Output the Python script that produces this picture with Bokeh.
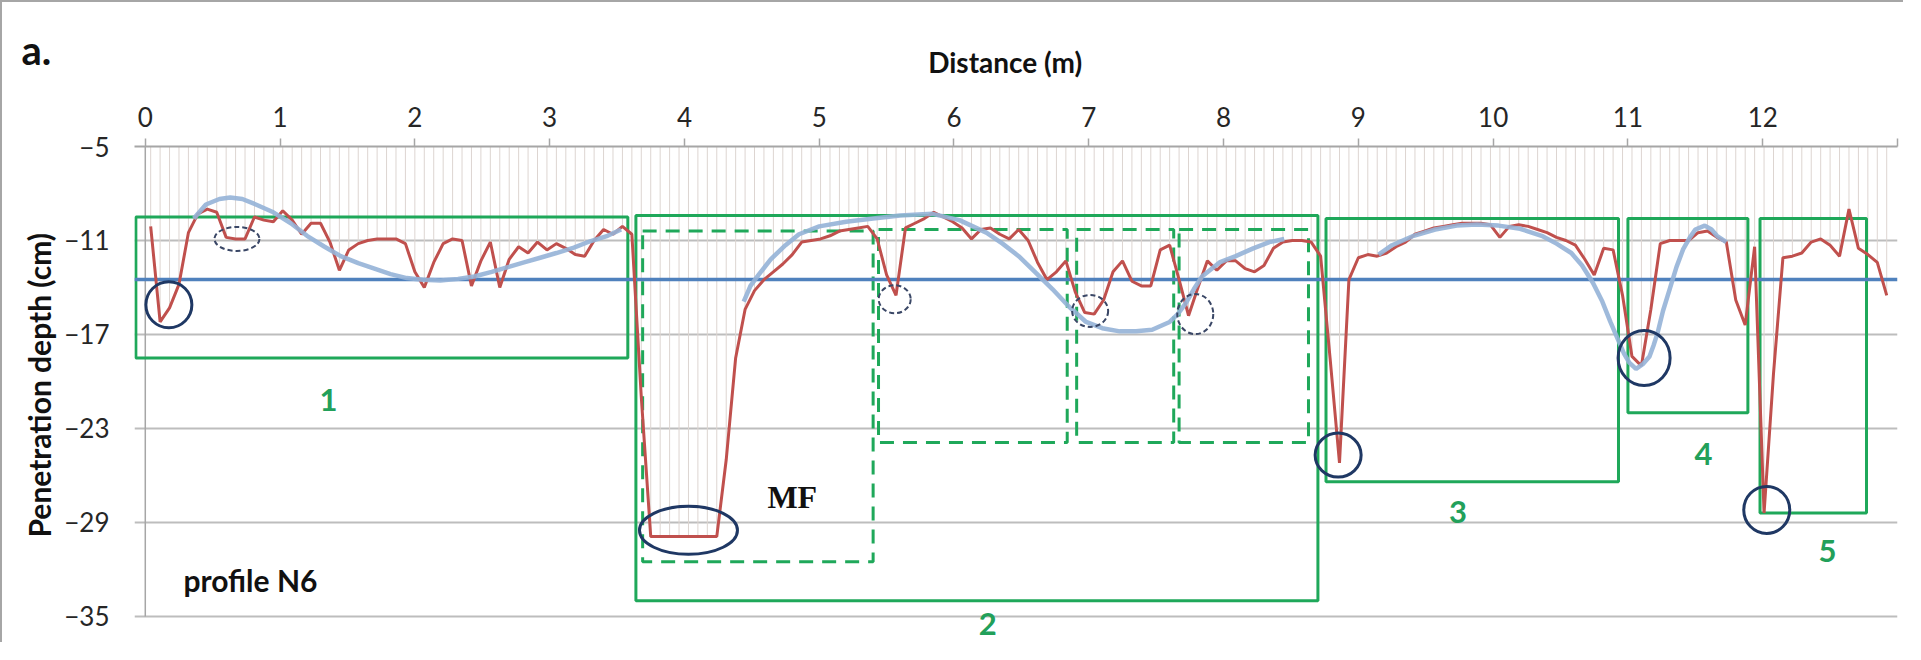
from bokeh.plotting import figure
from bokeh.models import Range1d, FixedTicker, Label, Title, ColumnDataSource
from bokeh.embed import file_html
from bokeh.resources import INLINE

# ---------------- data ----------------
distance = [
    0.04, 0.11, 0.18, 0.25, 0.32, 0.39, 0.46, 0.53, 0.60, 0.67,
    0.74, 0.81, 0.88, 0.95, 1.02, 1.09, 1.16, 1.23, 1.30, 1.37,
    1.44, 1.51, 1.58, 1.65, 1.72, 1.79, 1.86, 1.93, 2.00, 2.07,
    2.14, 2.21, 2.28, 2.35, 2.42, 2.49, 2.56, 2.63, 2.70, 2.77,
    2.84, 2.91, 2.98, 3.05, 3.12, 3.19, 3.26, 3.33, 3.40, 3.47,
    3.54, 3.61, 3.68, 3.75, 3.82, 3.89, 3.96, 4.03, 4.10, 4.17,
    4.24, 4.31, 4.38, 4.45, 4.52, 4.59, 4.66, 4.73, 4.80, 4.87,
    4.94, 5.01, 5.08, 5.15, 5.22, 5.29, 5.36, 5.43, 5.50, 5.57,
    5.64, 5.71, 5.78, 5.85, 5.92, 5.99, 6.06, 6.13, 6.20, 6.27,
    6.34, 6.41, 6.48, 6.55, 6.62, 6.69, 6.76, 6.83, 6.90, 6.97,
    7.04, 7.11, 7.18, 7.25, 7.32, 7.39, 7.46, 7.53, 7.60, 7.67,
    7.74, 7.81, 7.88, 7.95, 8.02, 8.09, 8.16, 8.23, 8.30, 8.37,
    8.44, 8.51, 8.58, 8.65, 8.72, 8.79, 8.86, 8.93, 9.00, 9.07,
    9.14, 9.21, 9.28, 9.35, 9.42, 9.49, 9.56, 9.63, 9.70, 9.77,
    9.84, 9.91, 9.98, 10.05, 10.12, 10.19, 10.26, 10.33, 10.40, 10.47,
    10.54, 10.61, 10.68, 10.75, 10.82, 10.89, 10.96, 11.03, 11.10, 11.17,
    11.24, 11.31, 11.38, 11.45, 11.52, 11.59, 11.66, 11.73, 11.80, 11.87,
    11.94, 12.01, 12.08, 12.15, 12.22, 12.29, 12.36, 12.43, 12.50, 12.57,
    12.64, 12.71, 12.78, 12.85, 12.92,
]
depth = [
    -10.1, -16.2, -15.3, -13.8, -10.5, -9.3, -9.0, -9.2, -10.8, -10.9,
    -10.9, -9.5, -9.7, -9.8, -9.1, -9.7, -10.6, -9.9, -9.9, -11.1,
    -12.9, -11.6, -11.2, -11.0, -10.9, -10.9, -10.9, -11.2, -13.0, -14.0,
    -12.4, -11.2, -10.9, -11.0, -13.9, -12.3, -11.1, -14.0, -12.2, -11.4,
    -11.8, -11.1, -11.6, -11.2, -11.5, -11.9, -12.0, -11.0, -10.3, -10.6,
    -10.1, -10.6, -21.0, -29.9, -29.9, -29.9, -29.9, -29.9, -29.9, -29.9,
    -29.9, -25.0, -18.5, -15.4, -14.2, -13.5, -13.0, -12.5, -11.9, -11.1,
    -11.0, -10.9, -10.7, -10.4, -10.3, -10.2, -10.1, -10.9, -13.2, -14.5,
    -10.2, -9.9, -9.6, -9.2, -9.5, -9.8, -10.2, -10.9, -10.3, -10.2,
    -10.6, -10.9, -10.3, -11.0, -12.4, -13.5, -13.0, -12.3, -14.3, -15.6,
    -15.7, -14.8, -13.0, -12.3, -13.6, -13.9, -13.9, -11.6, -11.3, -13.5,
    -15.8, -14.0, -12.3, -12.9, -12.3, -12.3, -12.8, -13.0, -12.6, -11.5,
    -11.1, -11.0, -11.0, -11.1, -12.0, -18.5, -25.2, -13.5, -12.1, -11.9,
    -12.0, -11.8, -11.4, -11.1, -10.6, -10.4, -10.2, -10.1, -10.0, -9.9,
    -9.9, -9.9, -10.0, -10.8, -10.1, -10.0, -10.1, -10.3, -10.5, -10.8,
    -11.0, -11.3, -12.2, -13.2, -11.5, -11.6, -14.5, -18.4, -19.0, -15.4,
    -11.2, -11.0, -11.0, -11.0, -10.5, -10.4, -10.8, -11.1, -14.8, -16.4,
    -11.4, -28.4, -19.5, -12.1, -12.0, -11.8, -11.1, -10.9, -11.3, -12.0,
    -9.0, -11.5, -11.9, -12.4, -14.5,
]

# smoothed trend curves (light blue)
trend1_x = [0.36, 0.45, 0.55, 0.63, 0.72, 0.82, 0.95, 1.08, 1.20, 1.33, 1.45, 1.58, 1.70, 1.82,
            1.94, 2.06, 2.19, 2.32, 2.44, 2.57, 2.69, 2.81, 2.93, 3.05, 3.18, 3.30, 3.43, 3.53]
trend1_y = [-9.6, -8.7, -8.35, -8.26, -8.35, -8.7, -9.2, -9.9, -10.7, -11.4, -12.0, -12.45, -12.8, -13.15,
            -13.4, -13.5, -13.55, -13.45, -13.3, -13.0, -12.7, -12.4, -12.1, -11.8, -11.45, -11.05, -10.7, -10.3]
trend2_x = [4.44, 4.49, 4.55, 4.64, 4.75, 4.85, 5.00, 5.20, 5.40, 5.60, 5.84, 6.04, 6.24, 6.36, 6.48, 6.60,
            6.73, 6.85, 6.98, 7.10, 7.23, 7.35, 7.47, 7.60, 7.66, 7.72, 7.78, 7.84, 7.97, 8.09, 8.22, 8.34, 8.45]
trend2_y = [-14.9, -13.9, -13.2, -12.2, -11.3, -10.6, -10.1, -9.8, -9.6, -9.4, -9.3, -9.7, -10.5, -11.2, -12.0, -13.0,
            -14.1, -15.2, -16.2, -16.6, -16.8, -16.8, -16.7, -16.2, -15.7, -15.0, -14.1, -13.3, -12.4, -12.0, -11.5, -11.1, -10.9]
trend3_x = [9.15, 9.25, 9.41, 9.57, 9.73, 9.88, 10.04, 10.20, 10.36, 10.47, 10.58, 10.66, 10.74, 10.81, 10.87, 10.92,
            10.97, 11.01, 11.06, 11.11, 11.16, 11.19, 11.22, 11.26, 11.31, 11.36, 11.41, 11.46, 11.50, 11.57, 11.62, 11.66, 11.73]
trend3_y = [-11.9, -11.3, -10.7, -10.3, -10.05, -9.98, -10.05, -10.25, -10.7, -11.2, -11.8, -12.6, -13.7, -14.9, -16.2, -17.2,
            -18.2, -18.8, -19.2, -18.9, -18.4, -17.7, -16.9, -15.5, -14.1, -12.7, -11.55, -10.8, -10.3, -10.05, -10.3, -10.7, -11.1]

reference_depth = -13.5  # horizontal blue line

# zones (solid green rectangles)
zone_left = [-0.07, 3.64, 8.76, 11.00, 11.98]
zone_right = [3.58, 8.70, 10.93, 11.89, 12.77]
zone_top = [-9.5, -9.4, -9.6, -9.6, -9.6]
zone_bottom = [-18.5, -34.0, -26.4, -22.0, -28.4]
zone_names = ["1", "2", "3", "4", "5"]
zone_name_x = [1.36, 6.25, 9.74, 11.56, 12.48]
zone_name_y = [-21.2, -35.5, -28.3, -24.6, -30.8]

# sub-zones (dashed green rectangles)
sub_left = [3.69, 5.44, 6.91, 7.67]
sub_right = [5.40, 6.84, 7.63, 8.63]
sub_top = [-10.4, -10.3, -10.3, -10.3]
sub_bottom = [-31.5, -23.9, -23.9, -23.9]

# marked points (solid rings) and minor marks (dashed rings)
ring_x = [0.175, 4.03, 8.85, 11.12, 12.03]
ring_y = [-15.1, -29.5, -24.7, -18.5, -28.2]
minor_x = [0.68, 5.56, 7.01, 7.79]
minor_y = [-10.9, -14.75, -15.5, -15.7]

x_ticks = [0, 1, 2, 3, 4, 5, 6, 7, 8, 9, 10, 11, 12, 13]
y_ticks = [-5, -11, -17, -23, -29, -35]
x_start, x_end = -0.08, 13.0
y_top, y_bottom = -5, -35
y_view_bottom = -36.79   # a little room below the last gridline for the "2" label

# ---------------- styles ----------------
ring_w_px = [46, 98, 46, 52, 46]
ring_h_px = [46, 48, 44, 55, 47]
minor_w_px = [45, 32, 36, 36]
minor_h_px = [24, 28, 32, 40]

GREEN = "#1fa85a"
RED = "#c0504d"
LIGHT_BLUE = "#95b3d7"
MID_BLUE = "#4f81bd"
NAVY = "#1f3864"
GRAY = "#a6a6a6"
FONT = "Lato"

p = figure(width=1903, height=642,
           x_range=Range1d(x_start, x_end), y_range=Range1d(y_view_bottom, y_top),
           x_axis_location="above", output_backend="svg", toolbar_location=None,
           min_border_left=132, min_border_right=8, min_border_top=144, min_border_bottom=0)
p.styles = {"border-top": "2px solid #a6a6a6", "border-left": "2px solid #a6a6a6"}
p.outline_line_color = None
p.background_fill_color = "white"
p.border_fill_color = "white"

# drop lines from the top axis to each reading
p.segment(x0=distance, y0=[y_top] * len(distance), x1=distance, y1=depth,
          line_color="#ddd5d1", line_width=1)
# vertical axis line at x = 0 (from the top to the last gridline)
p.segment(x0=[0], y0=[y_top], x1=[0], y1=[y_bottom], line_color=GRAY, line_width=1.5)

# zone rectangles
p.quad(left=zone_left, right=zone_right, top=zone_top, bottom=zone_bottom,
       fill_color=None, line_color=GREEN, line_width=3)
p.quad(left=sub_left, right=sub_right, top=sub_top, bottom=sub_bottom,
       fill_color=None, line_color=GREEN, line_width=3, line_dash="14 9")

# reference horizontal line
p.hspan(y=[reference_depth], line_color=MID_BLUE, line_width=3.5)

# profile and trends
p.line(distance, depth, line_color=RED, line_width=3)
p.multi_line(xs=[trend1_x, trend2_x, trend3_x], ys=[trend1_y, trend2_y, trend3_y],
             line_color=LIGHT_BLUE, line_width=4.5, line_alpha=0.9)

# rings
rs = ColumnDataSource(dict(x=ring_x, y=ring_y, w=ring_w_px, h=ring_h_px))
p.ellipse(x="x", y="y", width="w", height="h", width_units="screen", height_units="screen",
          source=rs, fill_color=None, line_color=NAVY, line_width=3)
ms = ColumnDataSource(dict(x=minor_x, y=minor_y, w=minor_w_px, h=minor_h_px))
p.ellipse(x="x", y="y", width="w", height="h", width_units="screen", height_units="screen",
          source=ms, fill_color=None, line_color="#3a4766", line_width=2, line_dash="5 3")

# axes
p.xaxis.ticker = FixedTicker(ticks=x_ticks)
p.xaxis.major_label_overrides = {13: ""}
p.xaxis.axis_line_color = GRAY
p.xaxis.axis_line_width = 2
p.xaxis.major_tick_line_color = GRAY
p.xaxis.major_tick_line_width = 1.5
p.xaxis.major_tick_out = 8
p.xaxis.major_tick_in = 0
p.xaxis.minor_tick_line_color = None
p.xaxis.major_label_standoff = 12

p.yaxis.ticker = FixedTicker(ticks=y_ticks)
p.yaxis.axis_line_color = None
p.yaxis.major_tick_line_color = None
p.yaxis.minor_tick_line_color = None
p.yaxis.major_label_standoff = 19

for ax in (p.xaxis, p.yaxis):
    ax.major_label_text_font = FONT
    ax.major_label_text_font_size = "26px"
    ax.major_label_text_color = "#262626"

p.xgrid.visible = False
p.ygrid.grid_line_color = "#bdbdbd"
p.ygrid.grid_line_width = 2

# titles placed in the side panels (so they are not clipped by the plot frame)
p.add_layout(Label(x=6.38, y=0.42, text="Distance (m)", text_align="center", text_baseline="middle",
                   text_font=FONT, text_font_size="28px", text_font_style="bold",
                   text_color="#111111"), "above")
p.add_layout(Label(x=-0.918, y=1.13, text="a.", text_align="left", text_baseline="middle",
                   text_font=FONT, text_font_size="40px", text_font_style="bold",
                   text_color="#111111"), "above")
p.add_layout(Title(text="Penetration depth (cm)", align="left", offset=107, vertical_align="middle",
                   standoff=8, text_font=FONT, text_font_size="30px", text_font_style="bold",
                   text_color="#111111"), "left")

# texts inside the plot
for t, x, y in zip(zone_names, zone_name_x, zone_name_y):
    p.add_layout(Label(x=x, y=y, text=t, text_align="center", text_baseline="middle",
                       text_font=FONT, text_font_size="31px", text_font_style="bold",
                       text_color="#22a05a"))
p.add_layout(Label(x=4.80, y=-27.4, text="MF", text_align="center", text_baseline="middle",
                   text_font="Liberation Serif", text_font_size="32px", text_font_style="bold",
                   text_color="#111111"))
p.add_layout(Label(x=0.78, y=-32.65, text="profile N6", text_align="center", text_baseline="middle",
                   text_font=FONT, text_font_size="30px", text_font_style="bold",
                   text_color="#111111"))

open("out.html", "w").write(file_html(p, INLINE))
